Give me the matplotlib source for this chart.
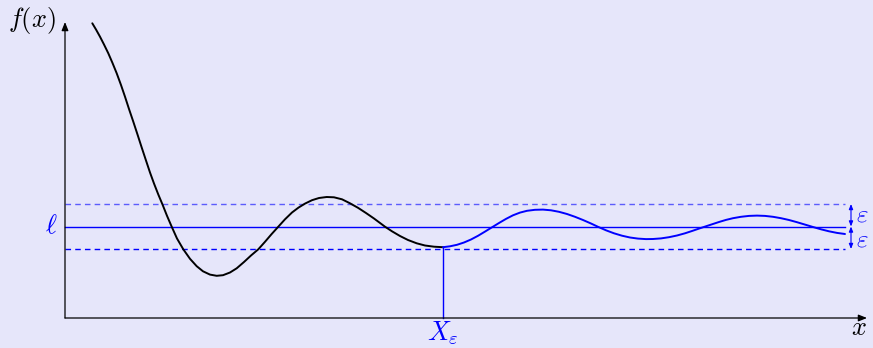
from matplotlib import pyplot as plt

plt.rcParams["mathtext.fontset"] = "cm"

BG = "#E6E6FA"
BLUE = "#0000FF"

# curve samples (black part, up to X_eps)
x_black = [0.273, 0.31, 0.35, 0.39, 0.433, 0.475, 0.517, 0.56, 0.60, 0.64, 0.683,
           0.725, 0.767, 0.81, 0.85, 0.89, 0.933, 0.975, 1.02, 1.067, 1.12, 1.183,
           1.25, 1.317, 1.38, 1.45, 1.517, 1.58, 1.65, 1.717, 1.79, 1.86, 1.933,
           2.00, 2.065, 2.133, 2.20, 2.27, 2.335, 2.40, 2.47, 2.54, 2.617, 2.69,
           2.77, 2.85, 2.93, 3.01, 3.09, 3.20, 3.27, 3.35, 3.43, 3.517, 3.60, 3.69,
           3.78]
y_black = [2.947, 2.885, 2.813, 2.735, 2.647, 2.55, 2.447, 2.33, 2.213, 2.09, 1.963,
           1.835, 1.705, 1.575, 1.455, 1.345, 1.235, 1.135, 1.022, 0.913, 0.795, 0.687,
           0.592, 0.518, 0.467, 0.434, 0.422, 0.428, 0.455, 0.497, 0.56, 0.625, 0.687,
           0.762, 0.838, 0.913, 0.987, 1.055, 1.104, 1.144, 1.178, 1.20, 1.21, 1.207,
           1.187, 1.147, 1.102, 1.05, 0.995, 0.913, 0.867, 0.82, 0.78, 0.747, 0.725,
           0.713, 0.708]

# blue part, after X_eps
x_blue = [3.78, 3.85, 3.92, 3.99, 4.06, 4.13, 4.20, 4.27, 4.34, 4.41, 4.48, 4.55,
          4.62, 4.70, 4.78, 4.86, 4.94, 5.02, 5.10, 5.18, 5.26, 5.33, 5.41, 5.49,
          5.57, 5.65, 5.73, 5.81, 5.88, 5.96, 6.04, 6.12, 6.20, 6.27, 6.34, 6.40,
          6.47, 6.54, 6.61, 6.68, 6.76, 6.84, 6.92, 7.00, 7.08, 7.16, 7.24, 7.32,
          7.40, 7.48, 7.56, 7.64, 7.72, 7.80]
y_blue = [0.708, 0.717, 0.732, 0.755, 0.785, 0.822, 0.864, 0.907, 0.95, 0.991, 1.027,
          1.054, 1.072, 1.082, 1.084, 1.077, 1.062, 1.04, 1.012, 0.98, 0.945, 0.912,
          0.877, 0.847, 0.823, 0.805, 0.794, 0.789, 0.79, 0.796, 0.808, 0.825, 0.847,
          0.87, 0.894, 0.914, 0.937, 0.96, 0.981, 0.998, 1.012, 1.021, 1.024, 1.021,
          1.012, 0.998, 0.98, 0.958, 0.934, 0.91, 0.887, 0.867, 0.851, 0.84]

ell = 0.915
eps = 0.225
x_eps = 3.78
x_end = 7.80

fig = plt.figure(figsize=(8.73, 3.48), dpi=100, facecolor=BG)
ax = fig.add_axes([0, 0, 1, 1])
ax.set_facecolor(BG)
ax.set_xlim(-0.65, 8.08)
ax.set_ylim(-0.30, 3.18)
ax.axis("off")

# axes with arrow heads
head = "-|>,head_length=0.5,head_width=0.2"
ax.annotate("", xy=(8.02, 0), xytext=(0, 0),
            arrowprops=dict(arrowstyle=head, lw=0.9, color="black", shrinkA=0, shrinkB=0))
ax.annotate("", xy=(0, 2.96), xytext=(0, 0),
            arrowprops=dict(arrowstyle=head, lw=0.9, color="black", shrinkA=0, shrinkB=0))

# levels l, l+eps, l-eps
ax.plot([0, x_end], [ell, ell], color=BLUE, lw=1.0)
ax.plot([0, x_end], [ell + eps, ell + eps], color=BLUE, alpha=0.6, lw=1.0, dashes=(4, 3))
ax.plot([0, x_end], [ell - eps, ell - eps], color=BLUE, lw=1.0, dashes=(4, 3))

# vertical line at X_eps
ax.plot([x_eps, x_eps], [0, y_blue[0]], color=BLUE, lw=1.0)

# curve
ax.plot(x_black, y_black, color="black", lw=1.4, solid_capstyle="round", solid_joinstyle="round")
ax.plot(x_blue, y_blue, color=BLUE, lw=1.4, solid_capstyle="round", solid_joinstyle="round")

# epsilon arrows on the right
xa = 7.86
for y0, y1 in [(ell, ell + eps), (ell, ell - eps)]:
    ax.annotate("", xy=(xa, y1), xytext=(xa, y0),
                arrowprops=dict(arrowstyle="<|-|>,head_length=0.3,head_width=0.12", lw=0.8,
                                color=BLUE, shrinkA=0, shrinkB=0))
ax.text(xa + 0.05, ell + eps / 2 + 0.01, r"$\varepsilon$", color=BLUE, fontsize=18,
        va="center", ha="left")
ax.text(xa + 0.05, ell - eps / 2 - 0.015, r"$\varepsilon$", color=BLUE, fontsize=18,
        va="center", ha="left")

# labels
ax.text(-0.33, 2.98, r"$f(x)$", fontsize=19, ha="center", va="center")
ax.text(7.94, -0.10, r"$x$", fontsize=19, ha="center", va="center")
ax.text(-0.14, ell, r"$\ell$", color=BLUE, fontsize=19, ha="center", va="center")
ax.text(x_eps, -0.15, r"$X_\varepsilon$", color=BLUE, fontsize=19, ha="center", va="center")

fig.savefig("out.png", dpi=100, facecolor=BG)
